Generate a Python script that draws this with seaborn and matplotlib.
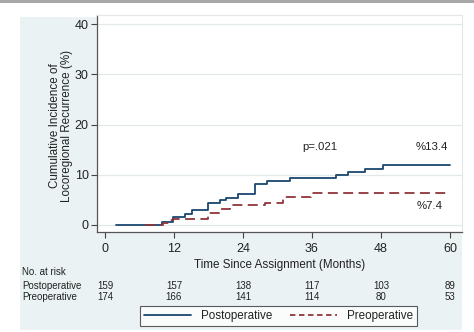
import matplotlib
matplotlib.use("Agg")
import matplotlib.pyplot as plt
import matplotlib.transforms as mtransforms
from matplotlib.patches import Rectangle
from matplotlib.lines import Line2D
import seaborn as sns
import pandas as pd

# ---- data ----
post_time = [2, 9.9, 11.9, 13.9, 15.1, 18.0, 20.0, 21.0, 23.2, 26.1, 28.1, 32.2, 40.2, 42.3, 45.2, 48.4, 60]
post_inc = [0, 0.6, 1.5, 2.2, 3.0, 4.3, 4.9, 5.4, 6.1, 8.1, 8.7, 9.4, 9.9, 10.5, 11.2, 11.9, 11.9]
pre_time = [7, 10.1, 11.3, 11.9, 18.0, 20.0, 21.7, 27.8, 31.0, 35.9, 60]
pre_inc = [0, 0.4, 0.9, 1.2, 2.3, 3.2, 4.0, 4.4, 5.5, 6.3, 6.3]

x_ticks = [0, 12, 24, 36, 48, 60]
y_ticks = [0, 10, 20, 30, 40]
risk_post = [159, 157, 138, 117, 103, 89]
risk_pre = [174, 166, 141, 114, 80, 53]
groups = ["Postoperative", "Preoperative"]
p_text = "p=.021"
post_label = "%13.4"
pre_label = "%7.4"

navy = "#1a476f"
maroon = "#90353b"
panel_bg = "#eaf2f3"

sns.set_theme(style="white")
plt.rcParams["font.family"] = ["Liberation Sans", "DejaVu Sans"]

W, H = 474, 332
fig = plt.figure(figsize=(W / 100, H / 100), dpi=100)
fig.patch.set_facecolor("white")

# panel background and top grey rule
fig.patches.append(Rectangle((20 / W, 2 / H), (462 - 20) / W, (330 - 17) / H,
                             transform=fig.transFigure, facecolor=panel_bg,
                             edgecolor="none", zorder=-5))
fig.patches.append(Rectangle((0, (H - 2.5) / H), 1, 2.5 / H,
                             transform=fig.transFigure, facecolor="#a8a8a8",
                             edgecolor="none", zorder=-5))

ax = fig.add_axes([97 / W, 100 / H, 365 / W, 217 / H])
ax.set_zorder(2)
ax.set_facecolor("white")

df_post = pd.DataFrame({"time": post_time, "inc": post_inc})
df_pre = pd.DataFrame({"time": pre_time, "inc": pre_inc})

sns.lineplot(data=df_post, x="time", y="inc", ax=ax, color=navy, lw=1.3,
             drawstyle="steps-post", estimator=None, zorder=3)
sns.lineplot(data=df_pre, x="time", y="inc", ax=ax, color=maroon, lw=1.3,
             drawstyle="steps-post", estimator=None, zorder=4,
             linestyle=(0, (5.5, 3)))

ax.set_xlim(-1.39, 62.1)
ax.set_ylim(-1.4, 41.8)
ax.set_xticks(x_ticks)
ax.set_yticks(y_ticks)
ax.set_xticklabels([str(t) for t in x_ticks], fontsize=9, color="#222222")
ax.set_yticklabels([str(t) for t in y_ticks], fontsize=9, color="#222222")
ax.tick_params(axis="x", direction="out", length=4, width=0.8, pad=4.0, bottom=True, color="#444444")
ax.tick_params(axis="y", direction="out", length=4.5, width=0.8, pad=1.5, left=True, color="#444444")

ax.grid(axis="y", color="#e2e8e9", lw=0.9)
ax.set_axisbelow(True)
for s in ["left", "bottom"]:
    ax.spines[s].set_color("#555555")
    ax.spines[s].set_linewidth(0.9)
for s in ["top", "right"]:
    ax.spines[s].set_color("#e2e8e9")
    ax.spines[s].set_linewidth(0.8)

ax.set_xlabel("Time Since Assignment (Months)", fontsize=8.4, color="#222222", va="center")
ax.xaxis.set_label_coords(0.5, -0.152)
ax.set_ylabel("Cumulative Incidence of\nLocoregional Recurrence (%)", fontsize=8.4,
              color="#222222", va="center", ha="center", multialignment="center",
              linespacing=1.0)
ax.yaxis.set_label_coords(-0.099, 0.49)

ax.text(37.4, 15.6, p_text, fontsize=8.2, ha="center", va="center", color="#222222")
ax.text(56.9, 15.6, post_label, fontsize=8.2, ha="center", va="center", color="#222222")
ax.text(56.5, 3.8, pre_label, fontsize=8.2, ha="center", va="center", color="#222222")

# number at risk table
trans = mtransforms.blended_transform_factory(ax.transData, fig.transFigure)
fig.text(22 / W, (H - 272) / H, "No. at risk", fontsize=7, ha="left", va="center", color="#222222")
fig.text(22 / W, (H - 286) / H, groups[0], fontsize=7, ha="left", va="center", color="#222222")
fig.text(22 / W, (H - 297) / H, groups[1], fontsize=7, ha="left", va="center", color="#222222")
for t, a, b in zip(x_ticks, risk_post, risk_pre):
    ax.text(t, (H - 286) / H, str(a), transform=trans, fontsize=7, ha="center", va="center",
            color="#222222", clip_on=False)
    ax.text(t, (H - 297) / H, str(b), transform=trans, fontsize=7, ha="center", va="center",
            color="#222222", clip_on=False)

handles = [Line2D([], [], color=navy, lw=1.3),
           Line2D([], [], color=maroon, lw=1.3, linestyle=(0, (3, 2)))]
leg = fig.legend(handles, groups, loc="center", bbox_to_anchor=(278.5 / W, (H - 316) / H),
                 ncol=2, fontsize=8.4, frameon=True, fancybox=False, handlelength=4.0,
                 handletextpad=0.9, columnspacing=1.5, borderpad=0.35)
leg.get_frame().set_edgecolor("#333333")
leg.get_frame().set_linewidth(0.8)
leg.get_frame().set_facecolor("white")
for txt in leg.get_texts():
    txt.set_color("#222222")

fig.savefig("out.png", dpi=100)
